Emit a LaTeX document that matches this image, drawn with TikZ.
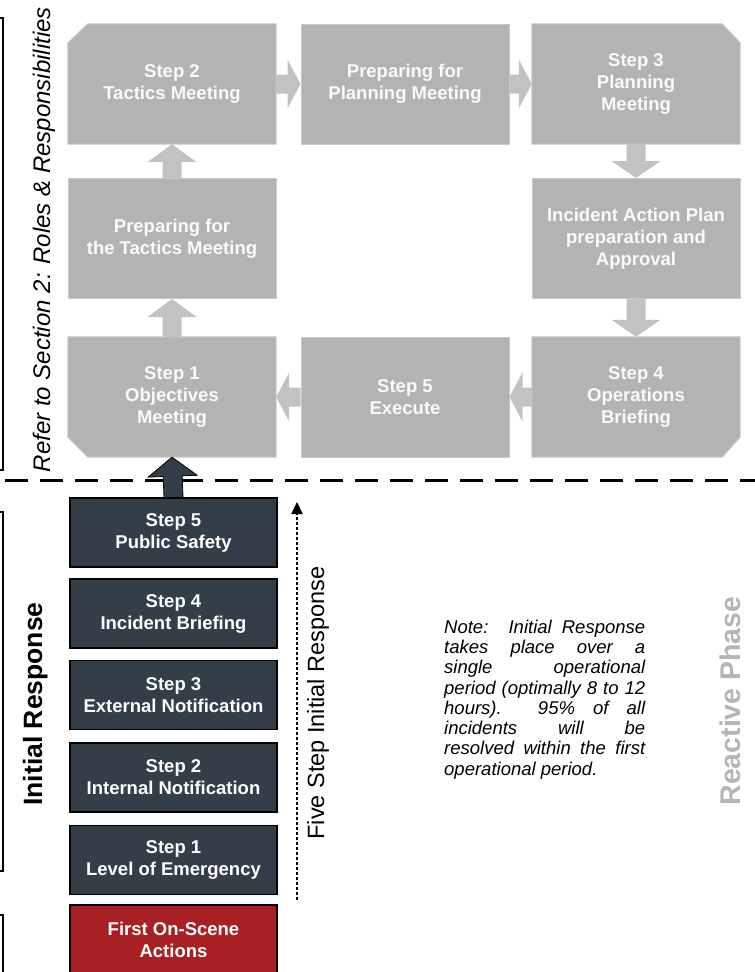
\documentclass[tikz,border=0pt]{standalone}
\usepackage{fontspec}
\setmainfont{Liberation Sans}
\usetikzlibrary{calc,backgrounds,arrows.meta}

\definecolor{boxgrey}{HTML}{B3B3B3}
\definecolor{boxedge}{HTML}{C9C9C9}
\definecolor{arrowgrey}{HTML}{C2C2C2}
\definecolor{slate}{HTML}{333E48}
\definecolor{alarm}{HTML}{A81F24}
\definecolor{phasegrey}{HTML}{B5B5B5}

% half widths of the block arrows
\newcommand\blkshaft{9.5pt}
\newcommand\blkhead{24.5pt}
% one fully justified line of the note
\newcommand\noteline[1]{\makebox[201pt][s]{#1}}

\begin{document}
\begin{tikzpicture}[x=1pt,y=-1pt,
  boxtext/.style={inner sep=0pt, align=center,
    font=\bfseries\fontsize{18.5}{22}\selectfont},
  greybox/.style={boxtext, minimum width=208pt, minimum height=120pt,
    text=white!94!boxgrey},
  greyfill/.style={fill=boxgrey, draw=boxedge, line width=1pt},
  darkbox/.style={boxtext, minimum width=207pt, minimum height=69pt,
    text=white, fill=slate, draw=black, line width=1.1pt},
  alarmbox/.style={darkbox, fill=alarm},
  greyarrow/.style={fill=arrowgrey},
  darkarrow/.style={fill=slate, draw=black, line width=0.8pt},
  blockarrow/.style={to path={
    ($(\tikztotarget)!#1!(\tikztostart)$) coordinate (blk-c)
    ($(\tikztostart)!\blkshaft!90:(\tikztotarget)$)
    -- ($(blk-c)!\blkshaft!90:(\tikztotarget)$)
    -- ($(blk-c)!\blkhead!90:(\tikztotarget)$)
    -- (\tikztotarget)
    -- ($(blk-c)!\blkhead!-90:(\tikztotarget)$)
    -- ($(blk-c)!\blkshaft!-90:(\tikztotarget)$)
    -- ($(\tikztostart)!\blkshaft!-90:(\tikztotarget)$)
    -- cycle}},
  sidelabel/.style={rotate=90, anchor=base, inner sep=0pt},
  bracket/.style={line width=1.3pt},
]
\useasboundingbox (0,0) rectangle (755,972);

% ---- planning cycle ----
\node[greybox] (t2) at (172,84) {Step 2\\Tactics Meeting};
\node[greybox, greyfill] (pp) at (405,84) {Preparing for\\Planning Meeting};
\node[greybox] (t3) at (636,84) {Step 3\\Planning\\Meeting};
\node[greybox, greyfill] (pt) at (172,238.5) {Preparing for\\the Tactics Meeting};
\node[greybox, greyfill] (iap) at (636,238.5) {Incident Action Plan\\preparation and\\Approval};
\node[greybox] (s1) at (172,397) {Step 1\\Objectives\\Meeting};
\node[greybox, greyfill] (ex) at (405,397) {Step 5\\Execute};
\node[greybox] (o4) at (636,397) {Step 4\\Operations\\Briefing};

\begin{scope}[on background layer]
  \filldraw[greyfill] ($(t2.north west)+(20,0)$) -- (t2.north east)
    -- (t2.south east) -- (t2.south west) -- ($(t2.north west)+(0,19)$) -- cycle;
  \filldraw[greyfill] (t3.north west) -- ($(t3.north east)+(-18,0)$)
    -- ($(t3.north east)+(0,19)$) -- (t3.south east) -- (t3.south west) -- cycle;
  \filldraw[greyfill] (s1.north west) -- (s1.north east) -- (s1.south east)
    -- ($(s1.south west)+(20,0)$) -- ($(s1.south west)+(0,-20)$) -- cycle;
  \filldraw[greyfill] (o4.north west) -- (o4.north east)
    -- ($(o4.south east)+(0,-20)$) -- ($(o4.south east)+(-18,0)$)
    -- (o4.south west) -- cycle;
\end{scope}

\fill[greyarrow] (t2.east) to[blockarrow=13pt] (pp.west);
\fill[greyarrow] (pp.east) to[blockarrow=13pt] (t3.west);
\fill[greyarrow] (t3.south) to[blockarrow=17pt] (iap.north);
\fill[greyarrow] (iap.south) to[blockarrow=17pt] (o4.north);
\fill[greyarrow] (o4.west) to[blockarrow=13pt] (ex.east);
\fill[greyarrow] (ex.west) to[blockarrow=13pt] (s1.east);
\fill[greyarrow] (s1.north) to[blockarrow=18pt] (pt.south);
\fill[greyarrow] (pt.north) to[blockarrow=18pt] (t2.south);

% ---- phase divider ----
\coordinate (divl) at (0,480);
\coordinate (divr) at (755,480);
\draw[line width=3pt, dash pattern=on 23pt off 12pt, dash phase=30pt] (divl) -- (divr);

% ---- initial response steps ----
\node[darkbox] (ps) at (173.5,532.5) {Step 5\\Public Safety};
\node[darkbox] (ib) at (173.5,613.5) {Step 4\\Incident Briefing};
\node[darkbox] (en) at (173.5,695) {Step 3\\External Notification};
\node[darkbox] (intn) at (173.5,777.5) {Step 2\\Internal Notification};
\node[darkbox] (le) at (173.5,860) {Step 1\\Level of Emergency};
\node[alarmbox] (fosa) at (173.5,939.5) {First On-Scene\\Actions};

\filldraw[darkarrow] (ps.north) to[blockarrow=19pt] (s1.south);

\coordinate (fsbot) at (297,900);
\coordinate (fstop) at (297,502);
\draw[line width=2.2pt, dash pattern=on 3pt off 2pt,
  -{Triangle[length=12pt,width=11pt]}] (fsbot) -- (fstop);

% ---- side labels ----
\node[sidelabel, font=\itshape\fontsize{24}{28}\selectfont] (refer) at (50,239.5)
  {Refer to Section 2: Roles \& Responsibilities};
\node[sidelabel, font=\bfseries\fontsize{26.5}{30}\selectfont] (initresp) at (42,704)
  {Initial Response};
\node[sidelabel, font=\fontsize{23.5}{27}\selectfont] (fivestep) at (324,703)
  {Five Step Initial Response};
\node[sidelabel, text=phasegrey, font=\bfseries\fontsize{28.5}{32}\selectfont] (phase) at (740,701)
  {Reactive Phase};

% ---- brackets ----
\draw[bracket] (0,18) -- (3,18) -- (3,470) -- (0,470);
\draw[bracket] (0,512) -- (3,512) -- (3,871) -- (0,871);
\draw[bracket] (0,915) -- (3,915) -- (3,980);

% ---- note ----
\node[anchor=north west, inner sep=0pt, align=left,
  font=\itshape\fontsize{18.5}{20.3}\selectfont] (note) at (444,619.5)
  {\noteline{Note:\ \ Initial Response}\\
   \noteline{takes place over a}\\
   \noteline{single operational}\\
   \noteline{period (optimally 8 to 12}\\
   \noteline{hours).\ \ 95\% of all}\\
   \noteline{incidents will be}\\
   \noteline{resolved within the first}\\
   operational period.};
\end{tikzpicture}
\end{document}
